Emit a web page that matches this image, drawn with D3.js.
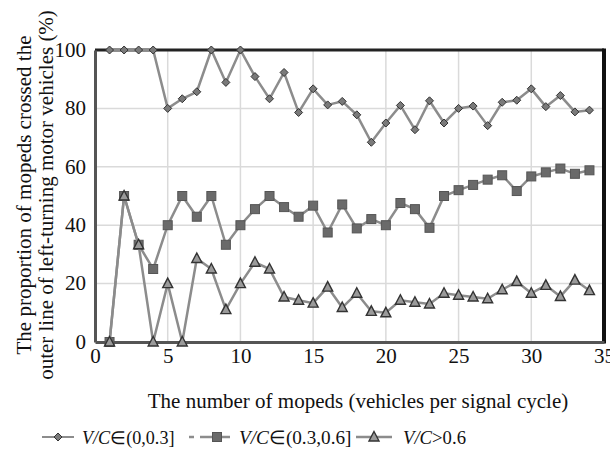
<!DOCTYPE html>
<html><head><meta charset="utf-8">
<script src="https://cdn.jsdelivr.net/npm/d3@7"></script>
<style>
html,body{margin:0;padding:0;background:#fff;}
svg text{font-family:"Liberation Serif","Times New Roman",serif;fill:#111;}
</style></head>
<body>
<svg id="c" width="610" height="455"></svg>
<script>
const xLow = [1,2,3,4,5,6,7,8,9,10,11,12,13,14,15,16,17,18,19,20,21,22,23,24,25,26,27,28,29,30,31,32,33,34];
const vLow = [100,100,100,100,80,83.3,85.7,100,88.9,100,90.9,83.3,92.3,78.6,86.7,81.2,82.4,77.8,68.4,75,81,72.7,82.6,75,80,80.8,74.1,82.1,82.8,86.7,80.6,84.4,78.8,79.4];
const xMid = [1,2,3,4,5,6,7,8,9,10,11,12,13,14,15,16,17,18,19,20,21,22,23,24,25,26,27,28,29,30,31,32,33,34];
const vMid = [0,50,33.3,25,40,50,42.9,50,33.3,40,45.5,50,46.2,42.9,46.7,37.5,47.1,38.9,42.1,40,47.6,45.5,39.1,50,52,53.8,55.6,57.1,51.7,56.7,58.1,59.4,57.6,58.8];
const xHigh = [1,2,3,4,5,6,7,8,9,10,11,12,13,14,15,16,17,18,19,20,21,22,23,24,25,26,27,28,29,30,31,32,33,34];
const vHigh = [0,50,33.3,0,20,0,28.6,25,11.1,20,27.3,25,15.4,14.3,13.3,18.8,11.8,16.7,10.5,10,14.3,13.6,13,16.7,16,15.4,14.8,17.9,20.7,16.7,19.4,15.6,21.2,17.6];
const xTicks = [0,5,10,15,20,25,30,35];
const yTicks = [0,20,40,60,80,100];
const legendLabels = ["V/C\u2208(0,0.3]","V/C\u2208(0.3,0.6]","V/C>0.6"];

const FONT = '"Liberation Serif","Times New Roman",serif';
const FS = 21;
const svg = d3.select("#c");
const L=95, R=604, T=50, B=342;
const x = d3.scaleLinear().domain([0,35]).range([L,R]);
const y = d3.scaleLinear().domain([0,100]).range([B,T]);

// grid
svg.append("g").selectAll("line").data(xTicks.filter(d=>d>0&&d<35)).join("line")
  .attr("x1",d=>x(d)).attr("x2",d=>x(d)).attr("y1",T).attr("y2",B)
  .attr("stroke","#dadada").attr("stroke-width",1.5);
svg.append("g").selectAll("line").data(yTicks.filter(d=>d>0&&d<100)).join("line")
  .attr("x1",L).attr("x2",R).attr("y1",d=>y(d)).attr("y2",d=>y(d))
  .attr("stroke","#dadada").attr("stroke-width",1.5);

// frame
svg.append("line").attr("x1",L).attr("x2",R).attr("y1",T).attr("y2",T).attr("stroke","#222").attr("stroke-width",3);
svg.append("line").attr("x1",R).attr("x2",R).attr("y1",T-1.5).attr("y2",B+1.5).attr("stroke","#111").attr("stroke-width",4);

// axes
const xAxis = d3.axisBottom(x).tickValues(xTicks).tickSize(0).tickPadding(6);
const yAxis = d3.axisLeft(y).tickValues(yTicks).tickSize(0).tickPadding(9);
const gx = svg.append("g").attr("transform",`translate(0,${B})`).call(xAxis);
const gy = svg.append("g").attr("transform",`translate(${L},0)`).call(yAxis);
[gx,gy].forEach(g=>{
  g.attr("font-family",FONT).attr("font-size",FS);
  g.select(".domain").attr("stroke","#555").attr("stroke-width",3);
  g.selectAll("text").attr("fill","#111");
});
gy.selectAll("text").attr("dy","0.3em");

const line = d3.line().x(d=>x(d[0])).y(d=>y(d[1]));
const LC = "#8c8c8c";
const dMid = xMid.map((d,i)=>[d,vMid[i]]);
const dHigh = xHigh.map((d,i)=>[d,vHigh[i]]);
const dLow = xLow.map((d,i)=>[d,vLow[i]]);

function sym(g, type, cx, cy){
  if(type==="sq"){
    g.append("rect").attr("x",cx-4.5).attr("y",cy-4.5).attr("width",9).attr("height",9)
     .attr("fill","#6a6a6a").attr("stroke","#555").attr("stroke-width",1);
  } else if(type==="tri"){
    const s=5;
    g.append("path").attr("d",`M${cx},${cy-s-0.5}L${cx+s},${cy+s-1}L${cx-s},${cy+s-1}Z`)
     .attr("fill","#9a9a9a").attr("stroke","#333").attr("stroke-width",1.4);
  } else {
    const s=4;
    g.append("path").attr("d",`M${cx},${cy-s}L${cx+s},${cy}L${cx},${cy+s}L${cx-s},${cy}Z`)
     .attr("fill","#7a7a7a").attr("stroke","#333").attr("stroke-width",1);
  }
}

svg.append("path").datum(dMid).attr("d",line).attr("fill","none").attr("stroke",LC).attr("stroke-width",2.5);
const gm = svg.append("g");
dMid.forEach(d=>sym(gm,"sq",x(d[0]),y(d[1])));
svg.append("path").datum(dHigh).attr("d",line).attr("fill","none").attr("stroke",LC).attr("stroke-width",2.5);
const gh = svg.append("g");
dHigh.forEach(d=>sym(gh,"tri",x(d[0]),y(d[1])));
svg.append("path").datum(dLow).attr("d",line).attr("fill","none").attr("stroke",LC).attr("stroke-width",2.5);
const gl = svg.append("g");
dLow.forEach(d=>sym(gl,"dia",x(d[0]),y(d[1])));

// titles
function txt(sel){ return sel.attr("font-family",FONT).attr("font-size",FS); }
txt(svg.append("text")).attr("x",358).attr("y",408).attr("text-anchor","middle")
  .text("The number of mopeds (vehicles per signal cycle)");
txt(svg.append("text")).attr("transform","translate(31,195) rotate(-90)").attr("text-anchor","middle")
  .text("The proportion of mopeds crossed the");
txt(svg.append("text")).attr("transform","translate(53,195) rotate(-90)").attr("text-anchor","middle")
  .text("outer line of left-turning motor vehicles (%)");

// legend
const ly = 437;
const lg = svg.append("g");
lg.append("line").attr("x1",42).attr("x2",74).attr("y1",ly).attr("y2",ly).attr("stroke",LC).attr("stroke-width",2);
sym(lg,"dia",58,ly);
lg.append("line").attr("x1",189).attr("x2",194).attr("y1",ly).attr("y2",ly).attr("stroke",LC).attr("stroke-width",2.5);
lg.append("line").attr("x1",200).attr("x2",230).attr("y1",ly).attr("y2",ly).attr("stroke",LC).attr("stroke-width",2.5);
sym(lg,"sq",217,ly);
lg.append("line").attr("x1",356).attr("x2",392).attr("y1",ly).attr("y2",ly).attr("stroke",LC).attr("stroke-width",2.5);
sym(lg,"tri",374,ly);

function legText(xp, label, w){
  const t = txt(lg.append("text")).attr("x",xp).attr("y",ly+7);
  const m = label.match(/^(V\/C)(.*)$/);
  t.append("tspan").style("font-style","italic").text(m[1]);
  t.append("tspan").text(m[2]);
  const cw = t.node().getComputedTextLength();
  if (cw > 0) t.attr("font-size", FS * w / cw);
}
legText(82, legendLabels[0], 92);
legText(239, legendLabels[1], 112);
legText(403, legendLabels[2], 63);
</script>
</body></html>
